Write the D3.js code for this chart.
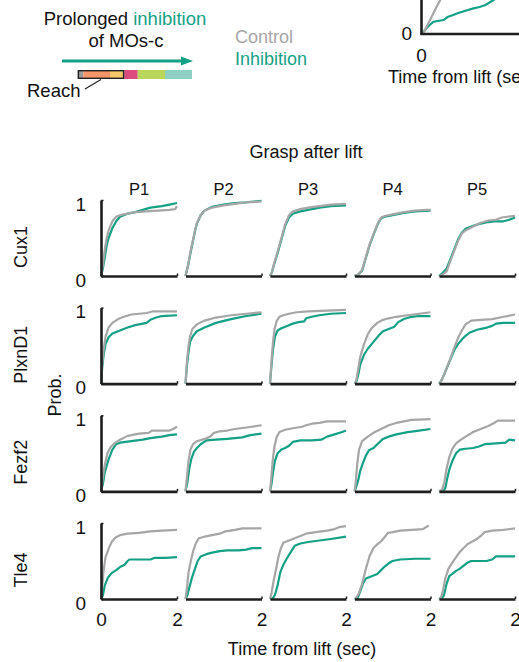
<!DOCTYPE html>
<html>
<head>
<meta charset="utf-8">
<script src="https://cdn.jsdelivr.net/npm/d3@7"></script>
<style>
  body { margin: 0; background: #fff; }
  svg { display: block; font-family: "Liberation Sans", Arial, sans-serif; }
</style>
</head>
<body>
<svg id="chart" width="519" height="662"></svg>
<script>
// ---------------- DATA ----------------
const genes = ["Cux1", "PlxnD1", "Fezf2", "Tle4"];
const periods = ["P1", "P2", "P3", "P4", "P5"];
const xTickValues = [0, 2];
const yTickValues = [0, 1];
const seriesNames = ["Control", "Inhibition"];

// Cumulative probability of grasp after lift, [time (s), prob]
const cux1Control = [
  [[0,0],[0.05,0.15],[0.1,0.35],[0.15,0.5],[0.2,0.6],[0.3,0.72],[0.4,0.78],[0.5,0.8],[0.7,0.82],[0.9,0.84],[1.2,0.85],[1.5,0.86],[1.8,0.87],[1.95,0.88],[2.0,0.92]],
  [[0,0],[0.07,0.15],[0.13,0.32],[0.2,0.48],[0.25,0.6],[0.3,0.7],[0.4,0.8],[0.5,0.86],[0.7,0.9],[1.0,0.93],[1.3,0.95],[1.6,0.97],[2.0,0.98]],
  [[0,0],[0.05,0.05],[0.1,0.15],[0.2,0.32],[0.3,0.5],[0.4,0.68],[0.5,0.8],[0.6,0.85],[0.8,0.88],[1.0,0.9],[1.3,0.92],[1.6,0.94],[2.0,0.95]],
  [[0,0],[0.1,0.02],[0.2,0.08],[0.3,0.25],[0.4,0.42],[0.5,0.55],[0.6,0.68],[0.7,0.77],[0.8,0.79],[1.0,0.81],[1.3,0.84],[1.6,0.86],[1.9,0.87],[2.0,0.87]],
  [[0,0],[0.1,0.02],[0.2,0.06],[0.3,0.2],[0.4,0.33],[0.5,0.46],[0.6,0.56],[0.7,0.6],[0.9,0.65],[1.1,0.7],[1.3,0.73],[1.5,0.74],[1.65,0.77],[1.8,0.78],[2.0,0.79]]
];
const cux1Inhibition = [
  [[0,0],[0.05,0.1],[0.1,0.25],[0.15,0.4],[0.2,0.5],[0.3,0.63],[0.4,0.72],[0.5,0.78],[0.7,0.82],[0.9,0.84],[1.1,0.87],[1.3,0.9],[1.6,0.92],[1.8,0.94],[2.0,0.96]],
  [[0,0],[0.07,0.14],[0.13,0.3],[0.2,0.47],[0.25,0.59],[0.3,0.69],[0.4,0.8],[0.5,0.86],[0.7,0.91],[1.0,0.94],[1.3,0.96],[1.6,0.97],[2.0,0.99]],
  [[0,0],[0.05,0.05],[0.1,0.14],[0.2,0.3],[0.3,0.48],[0.4,0.66],[0.5,0.77],[0.6,0.82],[0.8,0.85],[1.0,0.87],[1.3,0.9],[1.6,0.92],[2.0,0.93]],
  [[0,0],[0.1,0.02],[0.2,0.07],[0.3,0.24],[0.4,0.41],[0.5,0.54],[0.6,0.67],[0.7,0.76],[0.8,0.78],[1.0,0.8],[1.3,0.83],[1.6,0.85],[2.0,0.86]],
  [[0,0],[0.1,0.04],[0.2,0.1],[0.3,0.22],[0.4,0.35],[0.5,0.48],[0.6,0.57],[0.7,0.62],[0.9,0.66],[1.1,0.69],[1.3,0.71],[1.5,0.72],[1.7,0.72],[1.85,0.74],[2.0,0.77]]
];
const plxnd1Control = [
  [[0,0],[0.03,0.25],[0.07,0.45],[0.12,0.62],[0.2,0.74],[0.3,0.8],[0.45,0.85],[0.6,0.88],[0.8,0.91],[1.0,0.92],[1.2,0.93],[1.35,0.95],[2.0,0.95]],
  [[0,0],[0.04,0.3],[0.08,0.5],[0.12,0.62],[0.18,0.72],[0.3,0.78],[0.5,0.83],[0.8,0.87],[1.2,0.9],[1.6,0.92],[2.0,0.94]],
  [[0,0],[0.04,0.3],[0.08,0.55],[0.12,0.72],[0.18,0.83],[0.25,0.88],[0.35,0.9],[0.5,0.92],[0.7,0.94],[1.0,0.95],[1.5,0.96],[2.0,0.97]],
  [[0,0],[0.05,0.05],[0.1,0.2],[0.15,0.35],[0.25,0.52],[0.35,0.65],[0.45,0.73],[0.6,0.8],[0.75,0.84],[0.9,0.86],[1.1,0.88],[1.4,0.9],[1.7,0.92],[2.0,0.94]],
  [[0,0],[0.05,0.03],[0.1,0.08],[0.2,0.2],[0.3,0.33],[0.4,0.47],[0.5,0.6],[0.6,0.7],[0.7,0.78],[0.85,0.83],[1.1,0.84],[1.4,0.85],[1.7,0.88],[2.0,0.91]]
];
const plxnd1Inhibition = [
  [[0,0],[0.03,0.2],[0.07,0.38],[0.12,0.52],[0.2,0.61],[0.3,0.66],[0.5,0.7],[0.7,0.74],[0.9,0.77],[1.1,0.79],[1.2,0.8],[1.3,0.84],[1.45,0.87],[1.6,0.89],[2.0,0.9]],
  [[0,0],[0.04,0.25],[0.08,0.42],[0.12,0.55],[0.2,0.63],[0.3,0.69],[0.5,0.74],[0.8,0.8],[1.2,0.85],[1.6,0.89],[2.0,0.92]],
  [[0,0],[0.04,0.25],[0.08,0.45],[0.13,0.62],[0.2,0.7],[0.3,0.73],[0.45,0.76],[0.6,0.79],[0.75,0.81],[0.9,0.82],[0.95,0.86],[1.1,0.88],[1.3,0.9],[1.6,0.92],[2.0,0.93]],
  [[0,0],[0.05,0.03],[0.1,0.12],[0.15,0.25],[0.25,0.38],[0.35,0.46],[0.5,0.55],[0.65,0.64],[0.75,0.69],[0.9,0.72],[1.05,0.75],[1.15,0.81],[1.3,0.85],[1.5,0.88],[1.7,0.89],[2.0,0.89]],
  [[0,0],[0.05,0.03],[0.1,0.08],[0.2,0.2],[0.3,0.32],[0.4,0.44],[0.5,0.52],[0.6,0.58],[0.7,0.63],[0.8,0.67],[1.0,0.71],[1.2,0.73],[1.4,0.76],[1.5,0.79],[1.7,0.8],[2.0,0.8]]
];
const fezf2Control = [
  [[0,0],[0.04,0.15],[0.1,0.35],[0.17,0.5],[0.25,0.58],[0.35,0.63],[0.5,0.68],[0.7,0.73],[1.0,0.76],[1.25,0.77],[1.35,0.8],[1.8,0.8],[1.9,0.82],[2.0,0.85]],
  [[0,0],[0.04,0.2],[0.08,0.4],[0.13,0.55],[0.2,0.62],[0.3,0.66],[0.5,0.69],[0.65,0.72],[0.75,0.77],[0.9,0.79],[1.1,0.8],[1.3,0.82],[1.6,0.84],[2.0,0.87]],
  [[0,0],[0.03,0.15],[0.07,0.4],[0.12,0.6],[0.18,0.72],[0.25,0.78],[0.4,0.81],[0.6,0.83],[0.85,0.85],[0.95,0.87],[1.1,0.89],[1.3,0.9],[1.5,0.92],[2.0,0.92]],
  [[0,0],[0.03,0.1],[0.07,0.35],[0.12,0.55],[0.2,0.66],[0.35,0.72],[0.5,0.77],[0.7,0.82],[0.9,0.87],[1.1,0.9],[1.3,0.92],[1.5,0.94],[2.0,0.95]],
  [[0,0],[0.08,0.02],[0.14,0.12],[0.2,0.3],[0.27,0.45],[0.35,0.56],[0.45,0.63],[0.55,0.67],[0.7,0.72],[0.9,0.78],[1.1,0.82],[1.3,0.86],[1.45,0.9],[1.55,0.93],[2.0,0.93]]
];
const fezf2Inhibition = [
  [[0,0],[0.05,0.1],[0.1,0.25],[0.2,0.42],[0.3,0.55],[0.4,0.62],[0.5,0.64],[0.8,0.66],[1.1,0.68],[1.3,0.7],[1.6,0.72],[1.8,0.74],[2.0,0.75]],
  [[0,0],[0.05,0.12],[0.1,0.3],[0.15,0.42],[0.22,0.52],[0.3,0.57],[0.4,0.62],[0.55,0.67],[0.8,0.68],[1.1,0.69],[1.3,0.7],[1.5,0.71],[1.7,0.74],[2.0,0.76]],
  [[0,0],[0.04,0.1],[0.08,0.25],[0.13,0.4],[0.2,0.5],[0.3,0.55],[0.4,0.57],[0.5,0.6],[0.6,0.65],[0.8,0.67],[1.1,0.67],[1.35,0.68],[1.5,0.72],[1.7,0.75],[1.9,0.78],[2.0,0.8]],
  [[0,0],[0.04,0.05],[0.1,0.15],[0.15,0.27],[0.22,0.37],[0.3,0.47],[0.38,0.54],[0.5,0.57],[0.6,0.62],[0.75,0.69],[0.9,0.72],[1.1,0.75],[1.4,0.78],[1.7,0.8],[2.0,0.82]],
  [[0,0],[0.12,0],[0.17,0.05],[0.22,0.18],[0.28,0.3],[0.35,0.4],[0.45,0.5],[0.55,0.55],[0.7,0.56],[0.9,0.57],[1.05,0.59],[1.2,0.62],[1.5,0.63],[1.75,0.64],[1.85,0.68],[2.0,0.67]]
];
const tle4Control = [
  [[0,0],[0.03,0.15],[0.07,0.38],[0.12,0.55],[0.2,0.66],[0.28,0.75],[0.38,0.81],[0.5,0.84],[0.7,0.86],[1.0,0.87],[1.3,0.89],[1.6,0.9],[2.0,0.91]],
  [[0,0],[0.04,0.15],[0.08,0.35],[0.14,0.5],[0.2,0.63],[0.27,0.73],[0.35,0.8],[0.5,0.82],[0.7,0.84],[0.9,0.86],[1.05,0.89],[1.3,0.91],[1.5,0.93],[2.0,0.93]],
  [[0,0],[0.04,0.08],[0.1,0.25],[0.17,0.42],[0.22,0.55],[0.28,0.66],[0.35,0.74],[0.5,0.77],[0.65,0.8],[0.8,0.83],[0.95,0.86],[1.2,0.88],[1.5,0.9],[1.7,0.92],[1.85,0.95],[2.0,0.96]],
  [[0,0],[0.05,0.02],[0.12,0.08],[0.2,0.2],[0.3,0.4],[0.4,0.57],[0.5,0.67],[0.6,0.72],[0.7,0.76],[0.8,0.82],[0.88,0.87],[1.0,0.88],[1.2,0.9],[1.5,0.91],[1.8,0.92],[1.9,0.95],[1.95,0.97]],
  [[0,0],[0.05,0.02],[0.1,0.1],[0.17,0.28],[0.25,0.4],[0.35,0.48],[0.45,0.55],[0.55,0.62],[0.65,0.67],[0.75,0.72],[0.85,0.75],[1.0,0.79],[1.1,0.83],[1.2,0.88],[1.4,0.9],[1.7,0.91],[2.0,0.93]]
];
const tle4Inhibition = [
  [[0,0],[0.05,0.05],[0.1,0.18],[0.18,0.28],[0.28,0.34],[0.4,0.38],[0.5,0.42],[0.62,0.45],[0.7,0.5],[0.75,0.52],[1.0,0.52],[1.3,0.52],[1.4,0.54],[1.7,0.54],[2.0,0.55]],
  [[0,0],[0.05,0.05],[0.1,0.15],[0.17,0.28],[0.25,0.4],[0.32,0.5],[0.4,0.56],[0.55,0.59],[0.7,0.61],[0.9,0.63],[1.1,0.64],[1.4,0.64],[1.6,0.65],[1.75,0.67],[2.0,0.67]],
  [[0,0],[0.07,0.01],[0.13,0.05],[0.2,0.18],[0.27,0.35],[0.35,0.45],[0.45,0.54],[0.55,0.62],[0.65,0.7],[0.8,0.73],[1.0,0.75],[1.3,0.77],[1.6,0.79],[2.0,0.82]],
  [[0,0],[0.08,0.01],[0.15,0.1],[0.22,0.2],[0.3,0.27],[0.45,0.3],[0.6,0.33],[0.7,0.38],[0.8,0.43],[0.9,0.47],[1.0,0.5],[1.2,0.52],[1.6,0.53],[2.0,0.53]],
  [[0,0],[0.08,0.01],[0.13,0.05],[0.2,0.2],[0.27,0.3],[0.35,0.33],[0.45,0.37],[0.55,0.4],[0.65,0.44],[0.75,0.48],[0.85,0.5],[1.0,0.5],[1.25,0.5],[1.4,0.52],[1.5,0.56],[2.0,0.56]]
];

// Inset (top right, partially visible) curves
const insetControl = [[0,0],[0.03,0.02],[0.06,0.06],[0.09,0.1],[0.12,0.14],[0.15,0.18],[0.19,0.23],[0.25,0.33]];
const insetInhibition = [[0,0],[0.02,0.015],[0.06,0.047],[0.12,0.082],[0.22,0.093],[0.26,0.113],[0.31,0.125],[0.36,0.138],[0.44,0.155],[0.52,0.171],[0.58,0.18],[0.64,0.193],[0.72,0.227],[0.8,0.26]];

const controlByGene = [cux1Control, plxnd1Control, fezf2Control, tle4Control];
const inhibitionByGene = [cux1Inhibition, plxnd1Inhibition, fezf2Inhibition, tle4Inhibition];

// ---------------- STYLE / LAYOUT ----------------
const TEAL = "#14a085";
const GRAY = "#a6a6a6";
const AXIS = "#1e1e1e";
const FONT = "'Liberation Sans', Arial, sans-serif";
const svg = d3.select("#chart");
svg.append("rect").attr("width", 519).attr("height", 662).attr("fill", "#fff");

const panelW = 76, panelH = 76;
const colX0 = i => 101 + i * 84.5;
const rowY0 = j => 276 + j * 107.67;

const line = (x, y) => d3.line().x(d => x(d[0])).y(d => y(d[1]));

// ---------- Top-left schematic ----------
const tl = svg.append("g");
const t1 = tl.append("text").attr("x", 125).attr("y", 25).attr("text-anchor", "middle")
  .attr("font-size", 18.5).attr("fill", "#111");
t1.append("tspan").text("Prolonged ");
t1.append("tspan").attr("fill", TEAL).text("inhibition");
tl.append("text").attr("x", 126).attr("y", 46.5).attr("text-anchor", "middle")
  .attr("font-size", 18.5).attr("fill", "#111").text("of MOs-c");
tl.append("line").attr("x1", 62).attr("y1", 61).attr("x2", 184).attr("y2", 61)
  .attr("stroke", TEAL).attr("stroke-width", 3);
tl.append("path").attr("d", "M181,56.5 L193,61 L181,65.5 Z").attr("fill", TEAL);
const segs = [[77.7, 83.3, "#9b9b9b"], [83.3, 110, "#f4956a"], [110, 124.3, "#f6c76a"],
              [124.3, 137.7, "#db4b7d"], [137.7, 165, "#b9d55a"], [165, 192, "#8dcfc3"]];
segs.forEach(s => tl.append("rect").attr("x", s[0]).attr("y", 70).attr("width", s[1] - s[0])
  .attr("height", 9).attr("fill", s[2]));
tl.append("rect").attr("x", 78.4).attr("y", 70.7).attr("width", 45.2).attr("height", 7.6)
  .attr("fill", "none").attr("stroke", "#222").attr("stroke-width", 1.4);
tl.append("line").attr("x1", 85).attr("y1", 89).attr("x2", 101).attr("y2", 79.5)
  .attr("stroke", "#222").attr("stroke-width", 1.2);
tl.append("text").attr("x", 27).attr("y", 96.5).attr("font-size", 18.5).attr("fill", "#111").text("Reach");

// Legend
svg.append("text").attr("x", 235).attr("y", 42.7).attr("font-size", 18).attr("fill", GRAY).text(seriesNames[0]);
svg.append("text").attr("x", 235).attr("y", 65).attr("font-size", 18).attr("fill", TEAL).text(seriesNames[1]);

// ---------- Inset (top right) ----------
{
  const ix = d3.scaleLinear().domain([0, 2]).range([421.5, 621.5]);
  const iy = d3.scaleLinear().domain([0, 1]).range([34, -116]);
  const g = svg.append("g");
  g.append("path").datum(insetInhibition).attr("d", line(ix, iy)).attr("fill", "none")
    .attr("stroke", TEAL).attr("stroke-width", 2.2);
  g.append("path").datum(insetControl).attr("d", line(ix, iy)).attr("fill", "none")
    .attr("stroke", GRAY).attr("stroke-width", 2.2);
  g.append("line").attr("x1", ix(0)).attr("x2", ix(0)).attr("y1", iy(0)).attr("y2", -5)
    .attr("stroke", AXIS).attr("stroke-width", 2.6);
  g.append("line").attr("x1", ix(0) - 1.3).attr("x2", 525).attr("y1", iy(0)).attr("y2", iy(0))
    .attr("stroke", AXIS).attr("stroke-width", 2.6);
  g.append("text").attr("x", 412).attr("y", iy(0) + 6).attr("text-anchor", "end")
    .attr("font-size", 19).attr("fill", "#111").text("0");
  g.append("text").attr("x", ix(0)).attr("y", 61.5).attr("text-anchor", "middle")
    .attr("font-size", 19).attr("fill", "#111").text("0");
  g.append("text").attr("x", 388).attr("y", 83).attr("font-size", 18).attr("fill", "#111")
    .text("Time from lift (sec)");
}

// ---------- Main grid ----------
svg.append("text").attr("x", 306).attr("y", 158).attr("text-anchor", "middle")
  .attr("font-size", 18).attr("fill", "#111").text("Grasp after lift");

periods.forEach((p, i) => {
  svg.append("text").attr("x", colX0(i) + panelW / 2).attr("y", 195.3).attr("text-anchor", "middle")
    .attr("font-size", 16.5).attr("fill", "#111").text(p);
});

genes.forEach((gene, j) => {
  const yb = rowY0(j);
  const y = d3.scaleLinear().domain([0, 1]).range([yb, yb - panelH]);
  svg.append("text")
    .attr("transform", `translate(26.5,${yb - panelH / 2 + 9}) rotate(-90)`)
    .attr("text-anchor", "middle").attr("font-size", 18).attr("fill", "#111").text(gene);

  periods.forEach((p, i) => {
    const x0 = colX0(i);
    const x = d3.scaleLinear().domain([0, 2]).range([x0, x0 + panelW]);
    const g = svg.append("g");
    g.append("path").datum(inhibitionByGene[j][i]).attr("d", line(x, y)).attr("fill", "none")
      .attr("stroke", TEAL).attr("stroke-width", 2.2).attr("stroke-linejoin", "round");
    g.append("path").datum(controlByGene[j][i]).attr("d", line(x, y)).attr("fill", "none")
      .attr("stroke", GRAY).attr("stroke-width", 2.2).attr("stroke-linejoin", "round");

    // x axis
    const xa = d3.axisBottom(x).tickValues(i === 0 ? xTickValues : [xTickValues[1]])
      .tickFormat(d3.format("d"))
      .tickSize(-2.5).tickSizeOuter(0).tickPadding(13.3);
    const gx = g.append("g").attr("transform", `translate(0,${yb})`).call(xa);
    gx.select(".domain").attr("stroke", AXIS).attr("stroke-width", 2.6);
    gx.selectAll(".tick line").attr("stroke", AXIS).attr("stroke-width", 1.5);
    gx.selectAll(".tick text").attr("font-size", 19).attr("fill", "#111")
      .attr("font-family", FONT)
      .style("display", j === genes.length - 1 ? null : "none");

    // y axis only first column
    if (i === 0) {
      const ya = d3.axisLeft(y).tickValues(yTickValues).tickFormat(d3.format("d"))
        .tickSize(-2.5).tickSizeOuter(0).tickPadding(15);
      const gy = g.append("g").attr("transform", `translate(${x0},0)`).call(ya);
      gy.select(".domain").attr("stroke", AXIS).attr("stroke-width", 2.6);
      gy.selectAll(".tick line").attr("stroke", AXIS).attr("stroke-width", 1.5);
      gy.selectAll(".tick text").attr("font-size", 19).attr("fill", "#111")
        .attr("font-family", FONT).attr("dy", "0.32em").attr("y", 4);
    }
  });
});

svg.append("text").attr("transform", "translate(61,395) rotate(-90)").attr("text-anchor", "middle")
  .attr("font-size", 18).attr("fill", "#111").text("Prob.");
svg.append("text").attr("x", 302).attr("y", 655).attr("text-anchor", "middle")
  .attr("font-size", 18).attr("fill", "#111").text("Time from lift (sec)");
</script>
</body>
</html>
